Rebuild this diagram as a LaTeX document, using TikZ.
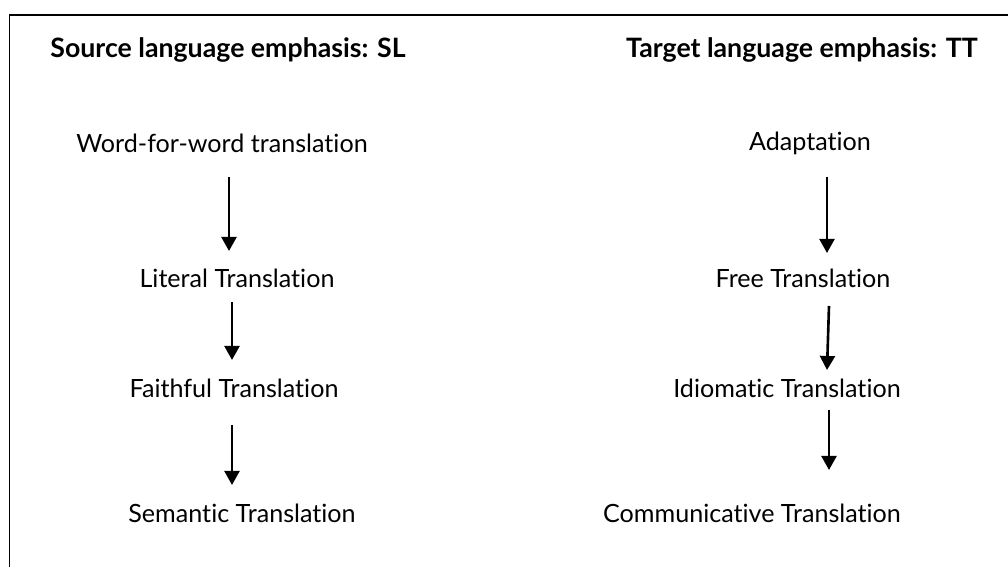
\documentclass[tikz,border=0pt]{standalone}
\usepackage{fontspec}
\setmainfont[Ligatures=NoCommon]{Lato}
\usetikzlibrary{arrows.meta}
\begin{document}
\begin{tikzpicture}[x=0.02cm, y=-0.02cm]
\tikzset{
  head/.style={font=\fontsize{15.2}{18}\selectfont\bfseries},
  kind/.style={font=\fontsize{14.3}{17}\selectfont},
  flow/.style={line width=1.5pt, -{Triangle[width=8.5pt, length=8pt]}}
}
\useasboundingbox (0,0) rectangle (1008,567);
\draw[line width=0.6pt] (9.5,567) -- (9.5,15) -- (1008,15);
\node[head] (sl) at (228,50){Source language emphasis: SL};
\node[head] (tt) at (802,50){Target language emphasis: TT};
\node[kind] (sl1) at (222,143){Word-for-word translation};
\node[kind] (sl2) at (237,278){Literal Translation};
\node[kind] (sl3) at (234,388){Faithful Translation};
\node[kind] (sl4) at (242,513){Semantic Translation};
\node[kind] (tt1) at (810,143){Adaptation};
\node[kind] (tt2) at (803,278){Free Translation};
\node[kind] (tt3) at (787,388){Idiomatic Translation};
\node[kind] (tt4) at (752,513){Communicative Translation};
\coordinate (a1s) at (229,177); \coordinate (a1e) at (229,251);
\coordinate (a2s) at (232,302); \coordinate (a2e) at (232,360);
\coordinate (a3s) at (232,425); \coordinate (a3e) at (232,485);
\coordinate (b1s) at (827,177); \coordinate (b1e) at (827,253);
\coordinate (b2s) at (829,306); \coordinate (b2e) at (827,370);
\coordinate (b3s) at (829,410); \coordinate (b3e) at (829,470);
\draw[flow] (a1s) -- (a1e);
\draw[flow] (a2s) -- (a2e);
\draw[flow] (a3s) -- (a3e);
\draw[flow] (b1s) -- (b1e);
\draw[flow] (b2s) -- (b2e);
\draw[flow] (b3s) -- (b3e);
\end{tikzpicture}
\end{document}
